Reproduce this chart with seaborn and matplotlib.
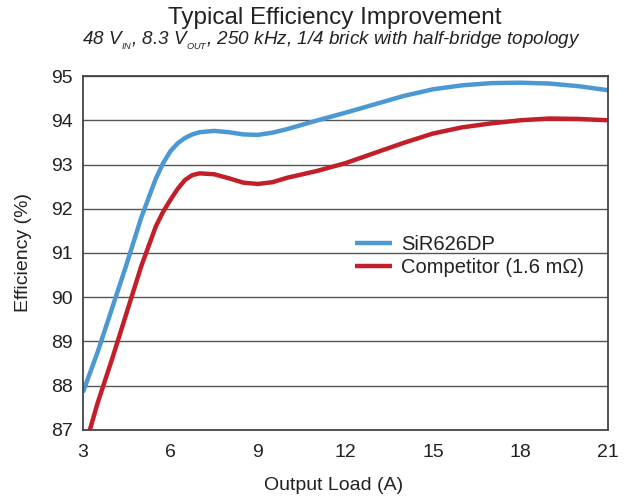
import matplotlib
matplotlib.use("Agg")
import matplotlib.pyplot as plt
import seaborn as sns
import pandas as pd

load_blue = [3.0, 3.5, 4.0, 4.5, 5.0, 5.5, 5.75, 6.0, 6.25, 6.5, 6.75, 7.0, 7.5, 8.0, 8.5, 9.0, 9.5, 10, 11, 12, 13, 14, 15, 16, 17, 18, 19, 20, 21]
eff_blue = [87.85, 88.75, 89.75, 90.75, 91.8, 92.68, 93.03, 93.3, 93.48, 93.6, 93.68, 93.73, 93.76, 93.73, 93.68, 93.67, 93.72, 93.8, 93.99, 94.17, 94.36, 94.55, 94.7, 94.79, 94.84, 94.85, 94.83, 94.77, 94.68]
load_red = [3.0, 3.5, 4.0, 4.5, 5.0, 5.5, 5.75, 6.0, 6.25, 6.5, 6.75, 7.0, 7.5, 8.0, 8.5, 9.0, 9.5, 10, 11, 12, 13, 14, 15, 16, 17, 18, 19, 20, 21]
eff_red = [86.45, 87.6, 88.6, 89.65, 90.7, 91.6, 91.93, 92.2, 92.45, 92.65, 92.76, 92.8, 92.78, 92.69, 92.59, 92.56, 92.6, 92.7, 92.85, 93.03, 93.26, 93.49, 93.7, 93.84, 93.93, 94.0, 94.04, 94.03, 94.0]
series_names = ["SiR626DP", "Competitor (1.6 m\u03a9)"]
x_ticks = [3, 6, 9, 12, 15, 18, 21]
y_ticks = [87, 88, 89, 90, 91, 92, 93, 94, 95]

sns.set_theme(style="white")
plt.rcParams['font.family'] = ['Liberation Sans', 'DejaVu Sans']
plt.rcParams['mathtext.fontset'] = 'custom'
plt.rcParams['mathtext.rm'] = 'Liberation Sans:italic'
plt.rcParams['mathtext.it'] = 'Liberation Sans:italic'

df = pd.concat([
    pd.DataFrame({"load": load_blue, "eff": eff_blue, "series": series_names[0]}),
    pd.DataFrame({"load": load_red, "eff": eff_red, "series": series_names[1]}),
])

fig = plt.figure(figsize=(6.28, 4.97), dpi=100)
ax = fig.add_axes([0.132, 0.135, 0.836, 0.712])
sns.lineplot(data=df, x="load", y="eff", hue="series", ax=ax,
             palette={series_names[0]: "#4b98d3", series_names[1]: "#c21f2b"},
             linewidth=3.2, sort=True, estimator=None)
for line in ax.get_lines():
    line.set_solid_joinstyle("round")
    line.set_solid_capstyle("butt")

ax.set_xlim(3, 21)
ax.set_ylim(87, 95)
ax.set_xticks(x_ticks)
ax.set_yticks(y_ticks)
ax.tick_params(axis='x', length=0, labelsize=14, colors="#222222", pad=10)
ax.tick_params(axis='y', length=0, labelsize=14, colors="#222222", pad=7)
ax.yaxis.grid(True, color="#555555", linewidth=1.0)
ax.xaxis.grid(False)
ax.set_axisbelow(True)
for s in ax.spines.values():
    s.set_visible(True)
    s.set_color("#444444")
    s.set_linewidth(1.3)

ax.set_xlabel("Output Load (A)", fontsize=14, color="#222222", labelpad=12)
ax.xaxis.label.set_x(0.477)
ax.set_ylabel("Efficiency (%)", fontsize=14, color="#222222", labelpad=14)

leg = ax.legend(loc="upper left", bbox_to_anchor=(0.518, 0.55), frameon=False,
                fontsize=14.5, handlelength=1.85, handletextpad=0.45,
                labelspacing=0.2, borderaxespad=0, borderpad=0)
for t in leg.get_texts():
    t.set_color("#222222")

fig.text(0.533, 0.964, "Typical Efficiency Improvement", ha="center", va="center",
         fontsize=17.5, color="#222222")
fig.text(0.527, 0.917, r"48 V$_{_{\mathrm{IN}}}$, 8.3 V$_{_{\mathrm{OUT}}}$, 250 kHz, 1/4 brick with half-bridge topology",
         ha="center", va="center", fontsize=13.6, style="italic", color="#222222")

fig.savefig("out.png", dpi=100)
